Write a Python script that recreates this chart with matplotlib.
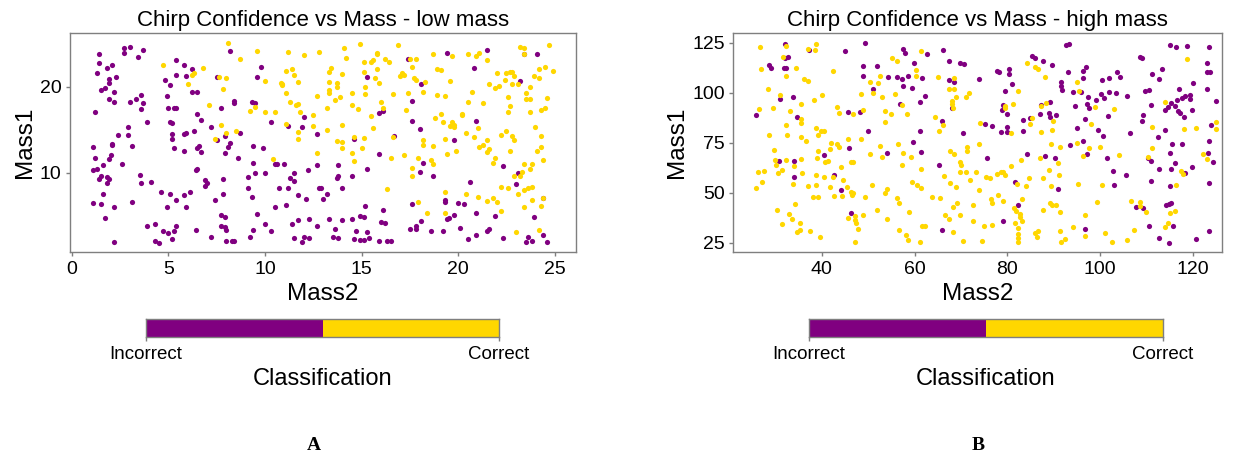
import matplotlib
matplotlib.use("Agg")
import matplotlib.pyplot as plt
from matplotlib.colors import ListedColormap
import numpy as np

PURPLE = "#800080"
GOLD = "#FFD700"
GREY = "#7f7f7f"

# ---------------- data (Mass2, Mass1) ----------------
low_incorrect = [
(2.7,24.5),(2.7,24.0),(3.0,24.7),(3.4,23.5),(3.7,24.3),(1.4,23.8),(1.4,22.8),(1.3,21.6),(1.8,22.2),(2.1,22.5),
(1.9,20.9),(1.9,20.5),(2.3,21.2),(1.5,19.7),(1.7,19.9),(2.2,19.4),(1.9,18.6),(2.2,18.2),(1.2,17.1),(3.0,18.2),
(3.3,18.6),(3.6,19.1),(3.7,18.1),(3.6,17.4),(3.9,15.9),(2.9,15.4),(2.9,14.4),(2.4,14.4),(2.1,13.4),(2.1,13.3),
(3.1,13.1),(2.0,12.1),(1.9,11.6),(1.6,10.9),(1.1,13.0),(1.2,11.7),(2.6,11.1),(1.3,10.5),(1.1,10.4),(1.4,9.3),
(1.5,9.6),(1.8,9.5),(1.9,9.3),(1.8,8.8),(1.6,7.5),(1.1,6.5),(1.5,6.4),(1.7,4.8),(2.2,6.0),(3.1,6.6),(2.2,2.0),
(3.5,9.8),(3.6,8.8),(4.1,8.9),(4.6,7.8),(5.1,7.6),(5.4,6.9),(4.9,6.1),(5.8,7.4),(6.1,7.8),(5.9,6.1),(6.5,10.5),
(6.4,10.3),(6.9,9.2),(7.0,8.8),(6.9,8.5),(7.4,6.9),(7.8,9.3),(7.8,7.5),(7.7,5.1),(7.9,4.9),(7.7,3.8),(7.9,3.7),
(8.0,3.4),(8.0,2.1),(8.3,2.1),(8.4,2.1),(7.2,2.6),(6.4,3.4),(5.4,3.8),(5.3,3.2),(5.0,3.0),(4.7,3.3),(5.2,2.3),
(4.3,4.1),(3.9,3.8),(4.3,2.1),(4.5,1.9),(5.4,23.1),(5.8,22.6),(5.4,21.4),(5.9,21.3),(6.2,22.1),(4.8,20.8),
(5.1,20.2),(4.9,19.0),(6.2,19.4),(6.5,19.4),(5.0,17.5),(5.3,17.6),(5.4,17.5),(6.5,16.9),(6.7,16.2),(5.1,15.9),
(5.2,15.8),(5.2,14.5),(5.2,14.0),(5.8,14.5),(5.9,14.6),(6.3,14.9),(5.8,12.6),(5.3,12.9),(6.5,12.9),(6.6,13.1),
(6.7,12.4),(7.2,15.3),(7.5,13.8),(7.9,14.3),(8.2,13.5),(8.1,13.0),(7.9,12.3),(8.6,11.7),(8.7,14.6),(7.5,21.2),
(7.7,17.6),(8.2,24.2),(8.4,18.1),(8.4,18.4),(9.3,18.3),(9.5,18.1),(9.6,21.2),(9.8,22.3),(10.3,15.9),(11.2,15.5),
(9.4,13.1),(9.9,12.9),(9.4,11.2),(9.5,10.0),(10.0,10.0),(10.5,11.1),(10.6,11.0),(11.0,11.1),(11.3,9.4),(11.5,10.0),
(11.5,9.1),(11.2,8.3),(10.7,8.3),(11.7,7.4),(12.1,7.0),(12.8,8.3),(12.9,8.3),(13.2,7.6),(13.0,7.0),(9.3,7.2),
(9.1,8.3),(9.1,9.5),(10.5,6.1),(11.1,6.3),(9.6,5.2),(10.0,4.1),(10.3,3.3),(9.2,2.6),(9.4,3.4),(11.4,4.1),
(11.7,4.5),(11.5,2.5),(12.0,2.6),(12.3,2.5),(11.9,2.0),(12.3,4.6),(12.7,3.8),(13.3,4.6),(12.0,16.5),(11.9,15.3),
(12.7,14.5),(12.7,10.9),(12.2,10.4),
(17.4,23.3),(19.4,24.0),(21.5,24.3),(20.8,22.2),(15.3,21.2),(18.1,20.4),(17.6,18.4),(16.1,17.2),(15.9,17.0),
(17.6,16.0),(18.0,15.1),(16.7,14.3),(14.6,13.9),(15.9,12.2),(13.8,10.9),(15.3,10.5),(14.5,9.6),(13.7,9.4),
(13.8,9.6),(14.0,8.3),(18.2,11.2),(18.0,10.1),(18.7,9.6),(20.6,9.0),(20.9,16.1),(19.8,13.8),(22.3,10.8),
(23.1,10.0),(23.0,8.7),(24.4,7.1),(23.9,4.9),(24.4,2.8),(24.1,23.8),(23.4,23.8),(23.2,20.7),(15.2,6.2),(16.1,5.7),
(17.6,6.4),(19.3,6.9),(19.3,6.6),(20.0,6.5),(20.3,6.4),(20.9,5.4),(21.9,5.0),(19.4,4.7),(19.5,4.8),(19.8,5.1),
(18.1,4.4),(17.8,3.8),(17.8,3.5),(17.5,3.5),(18.6,3.3),(19.2,3.2),(20.1,3.6),(20.5,2.3),(20.9,2.8),(21.5,3.3),
(21.6,3.5),(22.3,2.4),(23.5,2.0),(23.6,2.6),(23.8,2.1),(24.6,2.0),(16.0,4.3),(16.2,4.2),(15.1,4.9),(14.9,5.0),
(14.5,4.7),(14.0,4.5),(13.6,3.5),(13.5,2.6),(13.8,2.4),(14.6,2.3),(14.7,3.2),(14.9,2.2),(15.1,2.2),(15.3,3.1),
(15.4,2.4),(15.9,2.1),(16.3,2.1),(16.5,2.1),
]

low_correct = [
(4.7,22.5),(6.0,20.3),(6.2,21.4),(6.3,21.6),(6.8,22.2),(7.1,17.9),(7.6,21.2),(7.8,19.8),(8.0,21.0),(8.1,25.1),
(8.7,23.3),(9.6,24.2),(10.0,20.7),(9.2,17.2),(9.5,17.7),(10.0,17.1),(10.5,17.1),(11.2,24.1),(12.0,23.7),(12.8,24.1),
(11.1,21.8),(11.4,22.1),(11.5,21.4),(11.7,20.6),(10.8,20.5),(10.9,20.4),(10.9,20.2),(11.1,19.3),(11.3,18.3),
(11.6,17.9),(11.7,18.0),(11.8,17.1),(12.5,16.7),(12.7,18.9),(13.2,17.5),(13.3,21.7),(13.3,20.6),(13.3,19.7),
(13.3,19.3),(11.1,15.7),(11.7,14.8),(11.7,14.0),(12.5,15.5),(13.2,15.0),(12.7,12.3),(10.4,11.6),(8.5,14.9),
(8.0,14.6),(7.7,15.6),(7.4,13.9),
(14.1,24.5),(14.9,25.0),(14.2,23.4),(16.9,24.9),(15.8,24.0),(15.8,23.8),(15.6,23.1),(15.5,22.9),(16.2,23.2),
(16.4,22.9),(15.1,22.9),(13.4,22.2),(14.0,21.5),(15.1,21.7),(15.8,22.1),(15.7,21.0),(15.9,20.5),(17.0,21.3),
(17.1,21.6),(17.2,21.4),(17.7,21.0),(17.8,20.8),(18.3,20.6),(17.6,22.3),(17.5,23.3),(17.8,23.3),(18.7,23.8),
(19.7,23.6),(20.5,23.8),(20.9,23.6),(21.1,24.0),(21.5,23.1),(18.9,22.1),(19.1,22.0),(19.6,20.7),(18.9,19.1),
(19.3,19.0),(18.2,19.4),(17.4,19.3),(16.6,19.2),(16.0,18.3),(16.1,17.6),(15.2,20.0),(15.2,19.2),(14.5,19.3),
(13.9,18.8),(13.7,20.5),(13.7,20.0),(14.5,17.9),(14.8,17.4),(15.5,16.6),(17.3,17.3),(18.8,16.4),(19.1,16.9),
(19.2,15.9),(19.6,15.5),(19.7,15.9),(19.8,15.3),(19.8,15.6),(20.2,16.9),(20.2,16.7),(20.5,18.3),(21.3,18.1),
(20.7,19.4),(21.0,15.2),(20.8,14.2),(20.4,14.6),(19.3,14.0),(19.9,12.5),(19.4,12.2),(18.7,13.1),(18.2,13.3),
(18.2,13.8),(17.9,11.7),(18.6,11.5),(18.7,11.0),(17.6,10.6),(17.6,9.7),(17.2,12.1),(16.5,11.8),(16.6,14.2),
(15.6,15.2),(15.1,14.1),(15.0,12.9),(14.6,14.2),(14.5,12.3),(14.6,11.4),(14.0,13.6),(14.0,12.9),(13.7,13.7),
(14.0,15.6),(13.6,18.5),(16.3,8.1),(17.9,6.6),(18.4,5.3),(19.3,7.8),(19.3,5.4),(20.4,7.6),(21.0,7.2),(21.5,6.7),
(21.8,7.1),(22.0,6.6),(22.2,5.6),(23.0,3.1),(22.2,14.4),(22.5,14.9),(22.8,14.3),(22.9,13.8),(21.5,13.8),
(21.3,13.3),(21.1,13.0),(21.6,12.8),(21.5,12.4),(21.8,11.2),(21.9,11.7),(22.7,12.6),(22.2,8.4),(22.6,8.3),
(22.9,9.7),(23.2,9.6),(23.1,7.5),(23.4,8.0),(23.3,10.1),(23.4,11.0),(23.7,10.5),(23.8,11.1),(23.6,8.3),
(23.8,8.4),(23.8,6.9),(23.4,6.0),(24.3,6.2),(24.4,7.1),(24.2,3.4),(24.4,11.5),(24.1,12.6),(24.3,13.0),
(24.3,14.3),(24.0,15.4),(24.3,17.3),(24.5,17.6),(24.6,18.7),(23.7,17.1),(23.7,20.0),(23.5,19.3),(23.5,18.6),
(23.7,18.6),(22.6,18.8),(22.6,17.1),(22.7,17.8),(22.0,21.6),(22.4,20.8),(22.5,21.6),(22.7,21.7),(22.8,21.7),
(22.8,20.3),(22.9,21.3),(23.1,20.3),(21.9,19.9),(22.1,20.1),(21.6,20.4),(23.2,24.6),(23.4,24.5),(23.4,23.8),
(23.9,21.3),(24.2,22.1),(24.2,21.0),(24.5,22.3),(24.9,21.9),(24.7,24.9),
]

high_incorrect = [
(32.1,124.3),(32.0,117.3),(32.8,117.7),(32.3,112.5),(31.8,112.5),(28.7,113.7),(29.0,112.3),(31.0,96.7),(33.8,98.0),
(34.7,88.0),(25.9,88.8),(30.7,66.0),(34.0,66.0),(34.0,58.0),(37.2,121.3),(45.0,121.0),(49.2,124.7),(48.9,113.3),
(51.8,113.3),(48.8,108.3),(54.2,107.7),(56.1,108.0),(57.2,106.7),(58.6,108.3),(57.6,103.3),(59.5,102.5),
(59.9,115.0),(57.6,121.8),(58.0,119.7),(62.7,119.3),(66.1,121.2),(67.4,115.7),(69.9,115.0),(70.7,114.3),
(61.5,107.2),(62.2,98.5),(61.2,95.3),(56.8,94.3),(48.3,90.3),(45.6,90.3),(51.1,101.7),(50.0,81.0),(61.2,81.0),
(59.7,75.3),(61.4,70.3),(66.0,85.8),(68.1,92.5),(68.4,105.2),(67.4,106.3),(70.5,80.0),(65.3,63.7),(66.0,31.2),
(73.8,107.0),(54.1,69.7),(45.8,72.2),(40.5,68.7),(42.7,59.0),(44.1,51.3),(46.2,39.8),
(92.7,123.8),(93.4,124.5),(85.3,118.5),(86.0,117.5),(87.8,116.0),(89.7,113.7),(80.4,112.0),(77.8,110.8),
(78.3,110.5),(80.3,109.5),(81.0,104.5),(79.4,100.8),(93.1,110.5),(96.3,110.7),(97.0,112.8),(96.4,107.5),
(91.6,105.5),(91.6,103.5),(91.7,101.3),(94.2,100.3),(95.8,100.3),(97.3,97.7),(97.1,94.3),(97.7,92.3),(99.2,96.3),
(100.1,99.3),(100.9,97.3),(102.0,100.3),(103.4,99.7),(105.8,98.5),(103.7,110.2),(104.2,107.7),(100.5,106.2),
(101.9,107.5),(96.7,86.7),(94.5,93.3),(89.3,95.3),(87.2,94.0),(87.1,89.5),(88.9,89.7),(89.2,87.7),(90.4,88.7),
(84.8,87.3),(83.3,86.3),(83.4,80.8),(80.0,83.0),(79.9,80.3),(78.7,80.2),(76.6,83.2),(75.1,84.2),(79.1,93.7),
(78.9,91.3),(80.0,89.5),(93.6,73.8),(95.0,82.5),(96.3,75.7),(97.1,69.2),(99.6,81.5),(100.6,78.3),(101.7,88.5),
(101.5,67.5),(102.8,61.0),(102.9,54.0),(105.5,58.7),(106.5,80.0),(108.6,118.0),(109.0,117.2),(111.1,109.2),
(112.8,107.0),(113.4,111.7),(115.0,123.7),(116.4,122.7),(118.8,123.3),(123.5,123.0),(123.0,114.8),(123.0,110.3),
(123.7,110.3),(120.0,105.0),(123.0,101.7),(124.9,95.7),(109.8,100.7),(110.6,101.3),(111.0,93.8),(109.3,88.7),
(109.1,86.0),(113.9,91.5),(114.7,93.0),(115.4,95.0),(116.1,93.5),(116.6,96.3),(117.1,101.8),(117.7,97.3),
(118.3,98.5),(119.4,98.8),(119.5,96.7),(119.9,91.2),(116.8,90.7),(117.3,89.7),(118.0,88.0),(112.5,77.7),
(113.9,81.5),(115.6,74.2),(117.7,74.3),(115.1,69.8),(116.1,64.7),(115.2,61.7),(112.7,62.0),(110.9,65.8),
(110.4,67.2),(110.9,55.8),(115.0,53.3),(118.4,59.7),(119.9,63.0),(123.5,75.7),(123.3,70.0),(124.4,65.2),
(124.0,83.7),(123.5,54.8),(114.2,43.7),(114.8,44.3),(115.3,44.7),(109.3,42.5),(107.8,42.7),(115.8,33.5),
(112.7,27.3),(114.9,25.0),(120.6,26.8),(123.5,31.0),(110.6,33.5),(96.8,32.0),(90.9,51.7),(88.1,68.2),(90.2,67.3),
(84.3,69.3),(81.7,55.5),(82.4,44.0),(79.1,35.7),(75.6,67.3),
]

high_correct = [
(26.6,122.7),(26.9,112.0),(28.4,102.0),(26.5,91.7),(29.4,92.5),(28.6,78.7),(29.7,71.5),(30.0,66.2),(30.2,64.0),
(30.6,59.7),(31.5,61.2),(32.2,66.2),(26.3,60.2),(27.5,61.0),(27.0,55.3),(25.9,52.2),(30.3,41.5),(31.3,34.3),
(32.9,39.5),(33.6,36.7),(34.3,44.3),(35.3,34.8),(35.2,31.3),(34.7,30.3),(37.4,30.8),(39.6,27.8),(35.8,60.0),
(35.4,67.0),(34.0,63.5),(33.8,54.3),(37.1,53.5),(38.8,53.7),(38.8,58.7),(38.9,67.5),(39.1,70.7),(39.1,78.8),
(39.8,80.8),(40.4,80.7),(38.7,82.2),(36.5,75.8),(35.6,78.0),(35.6,85.0),(35.4,86.7),(35.6,94.2),(33.2,91.0),
(32.3,83.7),(32.4,78.7),(32.3,108.5),(32.2,123.3),(31.0,98.8),(31.7,118.0),(34.5,112.2),(36.1,107.0),(37.0,105.7),
(38.2,96.3),(40.0,98.7),(37.1,121.8),(38.5,121.3),(38.8,124.2),(42.5,110.7),(43.2,93.0),(43.8,89.8),(46.8,89.3),
(48.9,91.3),(48.4,99.2),(50.4,105.5),(51.1,100.0),(52.2,104.7),(52.6,108.3),(53.0,97.8),(53.6,90.8),(53.6,85.2),
(55.0,89.3),(55.8,99.5),(55.1,117.2),(56.3,116.0),(60.2,111.2),(60.3,108.3),(61.4,120.8),(57.2,94.0),(58.3,89.3),
(56.5,74.2),(57.6,70.0),(57.2,64.0),(59.2,68.0),(40.5,57.8),(40.7,65.3),(41.4,65.7),(41.7,72.0),(42.0,74.7),
(43.2,74.3),(43.7,73.0),(44.2,63.0),(44.5,56.3),(45.6,77.0),(45.4,53.0),(46.2,65.3),(46.8,65.3),(48.5,76.7),
(46.3,50.5),(46.8,50.0),(46.6,48.7),(45.6,37.2),(47.2,38.3),(47.1,36.3),(47.4,34.7),(47.8,32.0),(47.1,25.2),
(48.9,38.8),(49.4,47.7),(50.9,53.7),(51.8,41.2),(50.3,69.2),(52.5,73.2),(53.0,67.8),(53.6,49.7),(54.1,52.0),
(54.0,37.0),(56.2,47.5),(56.6,44.7),(58.9,40.2),(56.6,31.3),(58.1,28.7),(58.6,26.3),(61.1,25.3),(59.4,55.5),
(60.6,53.7),(61.3,52.3),(61.4,61.7),(61.7,33.5),(62.3,33.3),(63.8,47.7),(65.5,47.3),(64.3,87.7),(65.2,81.0),
(66.2,84.0),(65.0,108.0),(67.4,102.0),(68.6,107.3),(68.4,102.0),(68.9,98.0),(68.0,96.0),(68.1,94.3),(68.2,92.2),
(71.0,98.0),(71.7,100.0),(67.6,71.0),(68.4,69.3),(66.3,58.5),(67.7,55.0),(68.9,52.8),(69.8,65.2),(70.0,64.0),
(69.9,60.3),(71.1,60.3),(72.0,56.5),(71.4,72.7),(71.4,71.0),(73.8,74.2),(73.3,60.5),(73.8,51.2),(72.5,43.8),
(72.5,36.0),(69.2,45.0),(68.3,42.7),(66.5,39.0),(69.8,38.8),(67.5,36.8),(68.3,30.3),(70.4,25.7),(74.2,85.0),
(42.4,57.7),(41.8,53.0),(42.6,48.3),(44.3,48.5),(38.1,48.0),(39.2,48.0),
(84.3,114.7),(86.0,112.7),(86.7,111.7),(88.1,108.0),(82.4,100.7),(79.5,93.3),(79.4,92.2),(81.2,94.5),(87.3,93.3),
(88.4,94.7),(89.8,86.0),(85.3,87.5),(84.8,84.2),(87.3,80.2),(89.6,81.2),(80.7,80.0),(95.1,105.3),(95.5,100.8),
(99.0,92.7),(103.0,91.7),(98.1,84.5),(95.1,75.0),(97.6,72.5),(100.0,73.0),(96.4,68.5),(104.0,68.7),(89.4,74.5),
(91.4,72.8),(87.0,67.3),(83.0,66.3),(80.9,63.2),(90.9,64.7),(89.0,61.3),(91.2,58.8),(87.8,57.3),(84.6,57.5),
(89.4,53.3),(82.1,54.5),(84.1,53.2),(75.4,58.0),(76.3,57.3),(77.8,59.3),(78.6,60.3),(79.0,60.2),(79.6,58.8),
(78.0,49.0),(76.4,47.0),(76.8,44.7),(79.1,46.0),(83.2,47.0),(81.4,42.3),(81.9,41.0),(82.7,39.3),(82.8,37.7),
(83.1,36.0),(81.7,35.0),(82.4,32.3),(82.4,29.5),(82.2,27.2),(82.2,25.3),(74.9,33.2),(76.7,33.8),(74.5,25.7),
(85.9,29.7),(86.4,28.0),(86.7,30.7),(89.6,43.7),(89.2,45.0),(90.6,43.8),(91.4,40.2),(87.6,41.5),(91.4,30.8),
(91.5,25.5),(92.4,26.8),(94.2,32.7),(95.3,54.2),(96.8,38.8),(96.7,28.5),(99.4,45.2),(100.5,53.7),(101.1,29.7),
(102.5,25.5),(105.9,26.3),(107.3,31.3),(106.6,45.7),(108.6,45.5),(108.7,43.3),(109.9,40.5),(114.0,32.7),
(114.6,35.0),(115.1,39.8),(116.2,40.8),(116.3,53.7),(117.4,60.8),(117.8,59.2),(111.3,72.2),(110.4,67.7),
(111.2,82.7),(118.2,82.0),(120.7,82.3),(122.2,69.5),(123.0,66.7),(124.9,85.3),(124.9,82.0),(118.7,117.0),
(114.1,95.5),
]

titles = ["Chirp Confidence vs Mass - low mass", "Chirp Confidence vs Mass - high mass"]
x_label = "Mass2"
y_label = "Mass1"
class_labels = ["Incorrect", "Correct"]
legend_title = "Classification"
panel_letters = ["A", "B"]
low_xticks = [0, 5, 10, 15, 20, 25]
low_yticks = [10, 20]
high_xticks = [40, 60, 80, 100, 120]
high_yticks = [25, 50, 75, 100, 125]

# ---------------- figure ----------------
plt.rcParams["font.family"] = ["Liberation Sans", "DejaVu Sans"]
W, H = 1235, 457
fig = plt.figure(figsize=(W / 100, H / 100), dpi=100)

def frac(x0, y0, x1, y1):
    return [x0 / W, 1 - y1 / H, (x1 - x0) / W, (y1 - y0) / H]

def style_axes(ax):
    for s in ax.spines.values():
        s.set_color(GREY)
        s.set_linewidth(1.0)
    ax.tick_params(axis="both", colors=GREY, labelcolor="black", length=3,
                   width=1.0, labelsize=14, pad=3)

panels = [
    dict(inc=low_incorrect, cor=low_correct, box=(70, 33.3, 576, 252.3),
         xlim=(-0.1, 26.1), ylim=(0.78, 26.24), xt=low_xticks, yt=low_yticks,
         cbar=(145.7, 319.3, 499, 337.3), letter_x=314),
    dict(inc=high_incorrect, cor=high_correct, box=(733.3, 33.3, 1222, 252.3),
         xlim=(20.9, 126.3), ylim=(20.2, 129.8), xt=high_xticks, yt=high_yticks,
         cbar=(809, 319.3, 1163, 337.3), letter_x=978),
]

for i, p in enumerate(panels):
    ax = fig.add_axes(frac(*p["box"]))
    inc = np.array(p["inc"])
    cor = np.array(p["cor"])
    ax.scatter(inc[:, 0], inc[:, 1], s=14, c=PURPLE, linewidths=0, zorder=2)
    ax.scatter(cor[:, 0], cor[:, 1], s=14, c=GOLD, linewidths=0, zorder=2)
    ax.set_xlim(*p["xlim"])
    ax.set_ylim(*p["ylim"])
    ax.set_xticks(p["xt"])
    ax.set_yticks(p["yt"])
    style_axes(ax)
    ax.set_title(titles[i], fontsize=16, pad=5)
    ax.set_xlabel(x_label, fontsize=17.5, labelpad=4)
    ax.set_ylabel(y_label, fontsize=17.5, labelpad=3)

    # legend colour bar
    cax = fig.add_axes(frac(*p["cbar"]))
    cax.imshow([[0, 1]], cmap=ListedColormap([PURPLE, GOLD]), aspect="auto",
               extent=(0, 1, 0, 1))
    cax.set_xlim(0, 1)
    cax.set_ylim(0, 1)
    cax.set_yticks([])
    cax.set_xticks([0, 1])
    cax.set_xticklabels(class_labels)
    for s in cax.spines.values():
        s.set_color(GREY)
        s.set_linewidth(1.0)
    cax.tick_params(axis="x", colors=GREY, labelcolor="black", length=3,
                    width=1.0, labelsize=13.5, pad=3)
    cax.set_xlabel(legend_title, fontsize=17, labelpad=4)

    fig.text(p["letter_x"] / W, 1 - 446 / H, panel_letters[i], ha="center",
             va="center", fontsize=14, fontweight="bold",
             family=["Liberation Serif", "DejaVu Serif"])

fig.savefig("out.png", dpi=100)
